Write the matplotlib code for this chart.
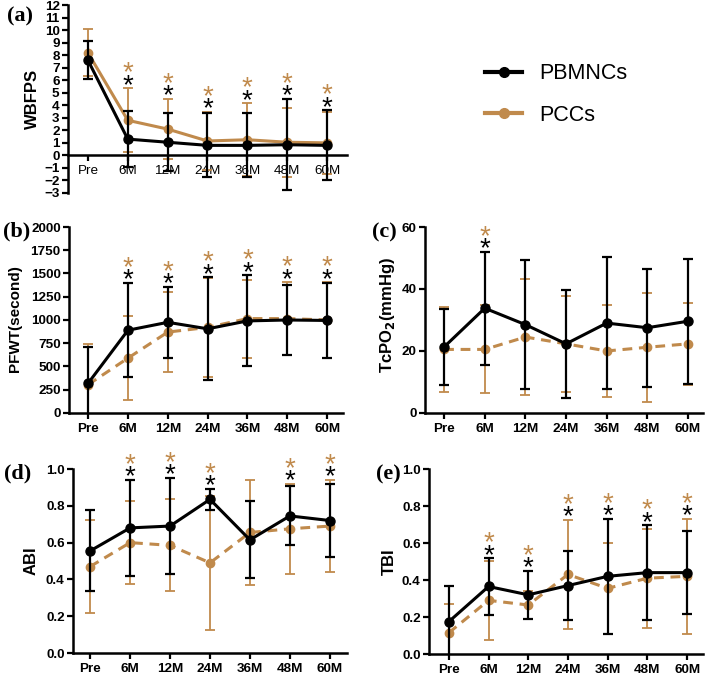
import matplotlib
matplotlib.use('Agg')
import matplotlib.pyplot as plt
from matplotlib.lines import Line2D

plt.rcParams['font.family'] = ['Liberation Sans', 'DejaVu Sans']

times = ['Pre', '6M', '12M', '24M', '36M', '48M', '60M']
BLACK = '#000000'
GOLD = '#C08A4C'

# (a) WBFPS
wbfps_pb = [7.6, 1.3, 1.05, 0.8, 0.8, 0.85, 0.8]
wbfps_pb_sd = [1.5, 2.25, 2.3, 2.55, 2.55, 3.65, 2.8]
wbfps_pc = [8.2, 2.8, 2.1, 1.15, 1.25, 1.05, 1.0]
wbfps_pc_sd = [1.85, 2.55, 2.4, 2.3, 2.9, 2.75, 2.45]
wbfps_sig = [0, 1, 1, 1, 1, 1, 1]

# (b) PFWT
pfwt_pb = [320, 890, 975, 905, 990, 1000, 995]
pfwt_pb_sd = [385, 505, 385, 553, 490, 375, 400]
pfwt_pc = [305, 590, 870, 920, 1015, 1015, 1000]
pfwt_pc_sd = [435, 450, 430, 528, 420, 390, 405]
pfwt_sig = [0, 1, 1, 1, 1, 1, 1]

# (c) TcPO2
tcpo2_pb = [21.3, 33.8, 28.5, 22.3, 29.0, 27.5, 29.6]
tcpo2_pb_sd = [12.4, 18.2, 20.7, 17.5, 21.2, 19.1, 20.1]
tcpo2_pc = [20.5, 20.5, 24.5, 22.3, 20.0, 21.2, 22.3]
tcpo2_pc_sd = [13.6, 14.2, 18.6, 15.5, 14.7, 17.6, 13.2]
tcpo2_sig = [0, 1, 0, 0, 0, 0, 0]

# (d) ABI
abi_pb = [0.555, 0.68, 0.69, 0.835, 0.615, 0.745, 0.72]
abi_pb_sd = [0.22, 0.26, 0.262, 0.058, 0.21, 0.16, 0.2]
abi_pc = [0.47, 0.6, 0.585, 0.49, 0.655, 0.675, 0.69]
abi_pc_sd = [0.255, 0.224, 0.25, 0.363, 0.283, 0.245, 0.25]
abi_sig = [0, 1, 1, 1, 0, 1, 1]

# (e) TBI
tbi_pb = [0.175, 0.365, 0.32, 0.37, 0.42, 0.44, 0.44]
tbi_pb_sd = [0.19, 0.152, 0.13, 0.185, 0.31, 0.255, 0.225]
tbi_pc = [0.115, 0.29, 0.265, 0.43, 0.355, 0.41, 0.42]
tbi_pc_sd = [0.155, 0.212, 0.075, 0.297, 0.245, 0.267, 0.31]
tbi_sig = [0, 1, 1, 1, 1, 1, 1]

fig = plt.figure(figsize=(7.08, 6.76), dpi=100)


def panel(rect, pb, pb_sd, pc, pc_sd, sig, dashed, ylim, yticks, xlim,
          ylabel, lab_xy, yticklabels=None, labsize=12):
    ax = fig.add_axes(rect)
    x = list(range(len(times)))
    ls = (0, (3.2, 2.2)) if dashed else '-'
    ax.errorbar(x, pc, yerr=pc_sd, color=GOLD, lw=2.2, ls=ls, marker='o',
                ms=6, elinewidth=1.3, capsize=3.8, capthick=1.3, zorder=2)
    ax.errorbar(x, pb, yerr=pb_sd, color=BLACK, lw=2.2, marker='o', ms=6.5,
                elinewidth=1.6, capsize=3.8, capthick=1.6, zorder=3)
    for i, s in enumerate(sig):
        if s:
            top = max(pb[i] + pb_sd[i], pc[i] + pc_sd[i])
            ax.annotate('*', (i, top), xytext=(0, -3.2), textcoords='offset points',
                        ha='center', va='baseline', fontsize=20, color=BLACK,
                        annotation_clip=False)
            ax.annotate('*', (i, top), xytext=(0, 5.6), textcoords='offset points',
                        ha='center', va='baseline', fontsize=20, color=GOLD,
                        annotation_clip=False)
    ax.set_xlim(*xlim)
    ax.set_ylim(*ylim)
    ax.set_yticks(yticks)
    if yticklabels is not None:
        ax.set_yticklabels(yticklabels)
    ax.set_xticks(x)
    ax.set_xticklabels(times)
    for sp in ['top', 'right']:
        ax.spines[sp].set_visible(False)
    for sp in ['left', 'bottom']:
        ax.spines[sp].set_linewidth(1.8)
    ax.tick_params(width=1.6, length=4, labelsize=9.7, pad=2)
    ax.tick_params(axis='x', pad=3)
    for t in ax.get_xticklabels() + ax.get_yticklabels():
        t.set_fontweight('bold')
    ax.set_ylabel(ylabel, fontsize=labsize, fontweight='bold')
    ax.yaxis.set_label_coords(*lab_xy)
    return ax


ax_a = panel([0.0960, 0.7145, 0.3941, 0.2781], wbfps_pb, wbfps_pb_sd,
             wbfps_pc, wbfps_pc_sd, wbfps_sig, False, (-3, 12),
             list(range(-3, 13)), (-0.5, 6.5), 'WBFPS', (-0.10, 0.5))
ax_a.spines['bottom'].set_position(('data', 0))

panel([0.0975, 0.3891, 0.3870, 0.2751], pfwt_pb, pfwt_pb_sd, pfwt_pc,
      pfwt_pc_sd, pfwt_sig, True, (0, 2000), list(range(0, 2001, 250)),
      (-0.48, 6.4), 'PFWT(second)', (-0.17, 0.505), labsize=11)

panel([0.6003, 0.3891, 0.3927, 0.2751], tcpo2_pb, tcpo2_pb_sd, tcpo2_pc,
      tcpo2_pc_sd, tcpo2_sig, True, (0, 60), [0, 20, 40, 60],
      (-0.47, 6.37), 'TcPO$_\\mathbf{2}$(mmHg)', (-0.10, 0.53))

panel([0.1031, 0.0340, 0.3870, 0.2722], abi_pb, abi_pb_sd, abi_pc,
      abi_pc_sd, abi_sig, True, (0, 1), [0, 0.2, 0.4, 0.6, 0.8, 1.0],
      (-0.43, 6.43), 'ABI', (-0.124, 0.5),
      ['0.0', '0.2', '0.4', '0.6', '0.8', '1.0'])

panel([0.6059, 0.0325, 0.3870, 0.2737], tbi_pb, tbi_pb_sd, tbi_pc,
      tbi_pc_sd, tbi_sig, True, (0, 1), [0, 0.2, 0.4, 0.6, 0.8, 1.0],
      (-0.5, 6.4), 'TBI', (-0.117, 0.5),
      ['0.0', '0.2', '0.4', '0.6', '0.8', '1.0'])

# panel letters
letters = [('(a)', 20, 16), ('(b)', 17, 231), ('(c)', 384, 232),
           ('(d)', 18, 473), ('(e)', 388, 474)]
for s, px, py in letters:
    fig.text(px / 708, 1 - py / 676, s, ha='center', va='center',
             fontsize=16, fontweight='bold', family='Liberation Serif')

handles = [Line2D([], [], color=BLACK, lw=3, marker='o', ms=7),
           Line2D([], [], color=GOLD, lw=3, marker='o', ms=7)]
fig.legend(handles, ['PBMNCs', 'PCCs'], loc='center left',
           bbox_to_anchor=(0.658, 0.860), frameon=False, fontsize=15.5,
           handlelength=1.7, handletextpad=0.8, labelspacing=0.95)

fig.savefig('out.png', dpi=100)
